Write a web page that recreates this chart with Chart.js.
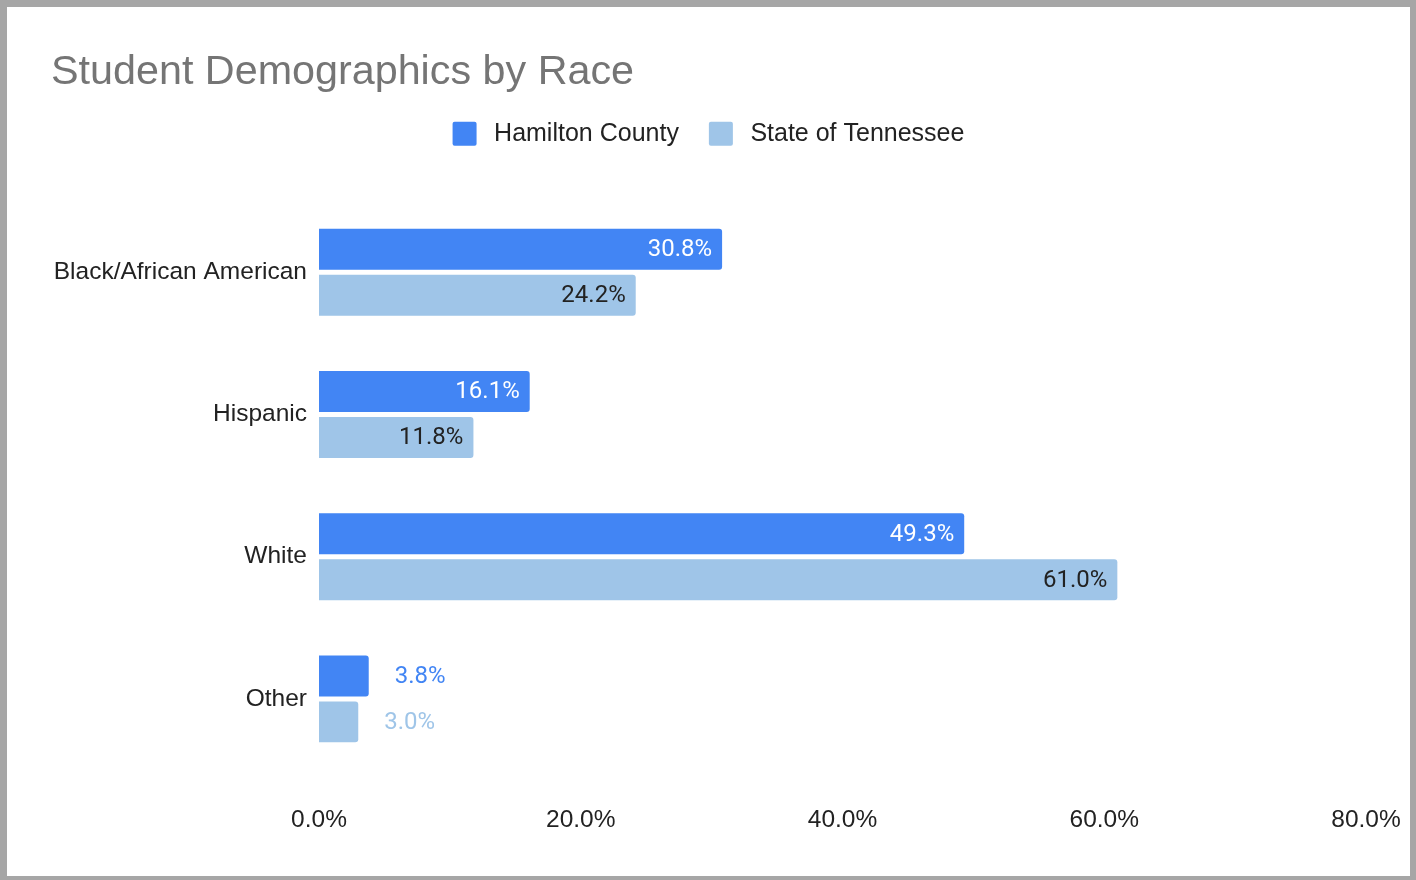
<!DOCTYPE html>
<html>
<head>
<meta charset="utf-8">
<script src="https://cdn.jsdelivr.net/npm/chart.js@4.4.1/dist/chart.umd.min.js"></script>
<style>
  html, body { margin: 0; padding: 0; background: #a6a6a6; }
  #frame {
    position: absolute; left: 7px; top: 7px; width: 1403px; height: 869px;
    background: #fff;
  }
  canvas { display: block; }
</style>
</head>
<body>
<div id="frame"><canvas id="chart" width="1403" height="869"></canvas></div>
<script>
const categories = ['Black/African American', 'Hispanic', 'White', 'Other'];
const hamilton = [30.8, 16.1, 49.3, 3.8];
const tennessee = [24.2, 11.8, 61.0, 3.0];
const xTicks = [0, 20, 40, 60, 80];

const BLUE = '#4285f4';
const LIGHT = '#9fc5e8';

// draws the value at the end of each bar, inside if it fits, else outside
const barLabels = {
  id: 'barLabels',
  afterDatasetsDraw(chart) {
    const ctx = chart.ctx;
    ctx.save();
    ctx.font = '24px Roboto';
    ctx.textBaseline = 'middle';
    chart.data.datasets.forEach((ds, di) => {
      const meta = chart.getDatasetMeta(di);
      meta.data.forEach((bar, i) => {
        const txt = ds.data[i].toFixed(1) + '%';
        const w = ctx.measureText(txt).width;
        const len = bar.x - bar.base;
        if (len > w + 20) {
          ctx.textAlign = 'right';
          ctx.fillStyle = di === 0 ? '#fff' : '#222';
          ctx.fillText(txt, bar.x - 10, bar.y + 1);
        } else {
          ctx.textAlign = 'left';
          ctx.fillStyle = ds.backgroundColor;
          ctx.fillText(txt, bar.x + 26, bar.y + 1);
        }
      });
    });
    ctx.restore();
  }
};

// extra room under the legend
const legendGap = {
  id: 'legendGap',
  beforeLayout(chart) {
    const lg = chart.legend;
    if (!lg || lg._gapPatched) return;
    const fit = lg.fit;
    lg.fit = function () {
      fit.call(this);
      this.height += 45;
    };
    lg._gapPatched = true;
  }
};

new Chart(document.getElementById('chart'), {
  type: 'bar',
  data: {
    labels: categories,
    datasets: [
      { label: 'Hamilton County', data: hamilton, backgroundColor: BLUE },
      { label: 'State of Tennessee', data: tennessee, backgroundColor: LIGHT }
    ]
  },
  options: {
    indexAxis: 'y',
    responsive: false,
    animation: false,
    categoryPercentage: 0.6466,
    barPercentage: 0.891,
    borderRadius: { topRight: 3, bottomRight: 3 },
    borderSkipped: 'start',
    layout: { padding: { left: 44, right: 44, top: 47, bottom: 41 } },
    plugins: {
      title: {
        display: true,
        text: 'Student Demographics by Race',
        align: 'start',
        color: '#757575',
        font: { family: 'Liberation Sans', size: 41.3, weight: 'normal', lineHeight: 0.9 },
        padding: 0
      },
      legend: {
        labels: {
          color: '#222',
          font: { family: 'Liberation Sans', size: 25 },
          boxWidth: 24,
          boxHeight: 24,
          padding: 30,
          useBorderRadius: true,
          borderRadius: 2,
          generateLabels(chart) {
            const items = Chart.defaults.plugins.legend.labels.generateLabels(chart);
            items.forEach(it => { it.text = '\u2009' + it.text; });
            return items;
          }
        }
      },
      tooltip: { enabled: false }
    },
    scales: {
      x: {
        min: 0,
        max: 80,
        afterBuildTicks: s => { s.ticks = xTicks.map(v => ({ value: v })); },
        afterFit: s => { s.paddingRight = 0; s.paddingLeft = 0; s.height = 65; },
        grid: { display: false, drawTicks: false },
        border: { display: false },
        ticks: {
          color: '#222',
          padding: 36,
          font: { family: 'Liberation Sans', size: 24.5 },
          callback: v => v.toFixed(1) + '%'
        }
      },
      y: {
        afterFit: s => { s.width = 268; },
        grid: { display: false, drawTicks: false },
        border: { display: false },
        ticks: {
          color: '#222',
          padding: 12,
          font: { family: 'Liberation Sans', size: 24.5 }
        }
      }
    }
  },
  plugins: [barLabels, legendGap]
});
</script>
</body>
</html>
